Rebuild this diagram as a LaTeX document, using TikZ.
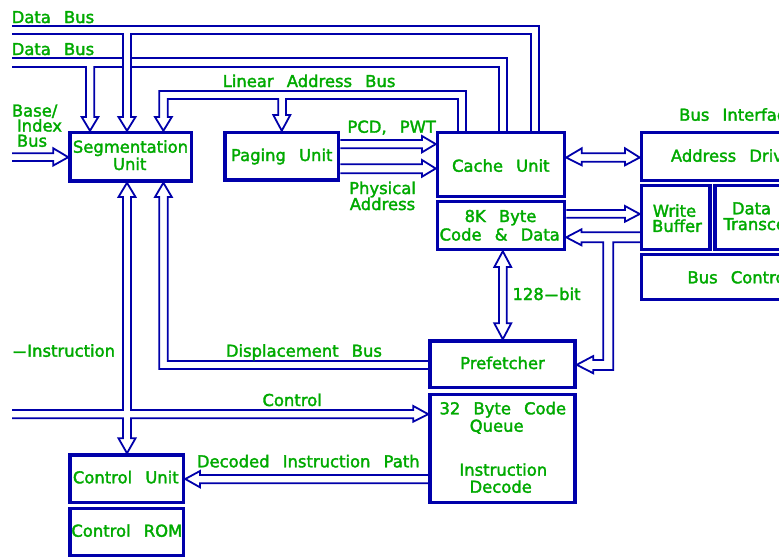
\documentclass[tikz,border=0pt]{standalone}
\usepackage{fontspec}
\setmainfont{DejaVu Sans}[FakeBold=2]
\definecolor{ebl}{RGB}{0,0,170}
\definecolor{egr}{RGB}{0,170,0}
\newcommand\lblfont{\fontsize{16.4}{17}\selectfont\spaceskip=0.8em\relax}
\newcommand\wdash{\scalebox{2.6}[1]{-}}
\tikzset{
  box/.style={draw=ebl, line width=3.5pt, inner sep=0pt, outer sep=0pt},
  bus/.style={draw=ebl, line width=1.8pt, line join=miter},
  lbl/.style={text=egr, inner sep=0pt, font=\lblfont, anchor=base},
  lblw/.style={lbl, anchor=base west},
}
\begin{document}
\begin{tikzpicture}[x=1pt,y=-1pt]
\clip (0,0) rectangle (779,558);
\fill[white] (0,0) rectangle (779,558);
% ---------- boxes ----------
\node[box, minimum width=121.5pt, minimum height=48.5pt] (seg)   at (130.75,156.75) {};
\node[box, minimum width=113.5pt, minimum height=47.5pt] (pag)   at (281.75,156.25) {};
\node[box, minimum width=127pt,   minimum height=64pt]   (cache) at (501,164.5) {};
\node[box, minimum width=127pt,   minimum height=48pt]   (cdata) at (501,225.5) {};
\node[box, minimum width=258.5pt, minimum height=48pt]   (addr)  at (770.75,156.5) {};
\node[box, minimum width=68.5pt,  minimum height=64pt]   (wbuf)  at (675.75,217.5) {};
\node[box, minimum width=185pt,   minimum height=64pt]   (dtrans) at (807.5,217.5) {};
\node[box, minimum width=258.5pt, minimum height=45pt]   (bctl)  at (770.75,277) {};
\node[box, minimum width=145pt,   minimum height=46.5pt] (pref)  at (502.5,364.25) {};
\node[box, minimum width=145pt,   minimum height=108pt]  (queue) at (502.5,448.5) {};
\node[box, minimum width=113.5pt, minimum height=47.5pt] (cu)    at (126.75,478.75) {};
\node[box, minimum width=113.5pt, minimum height=47pt]   (crom)  at (126.75,532) {};
% ---------- buses ----------
% Data Bus 1
\draw[bus] (12,26) -- (539,26) -- (539,130.75);
\draw[bus] (531,130.75) -- (531,34) -- (131,34) -- (131,117) -- (135.5,117) -- (127,130.75)
  -- (118.5,117) -- (123,117) -- (123,34) -- (12,34);
% Data Bus 2
\draw[bus] (12,58) -- (123,58);
\draw[bus] (131,58) -- (507,58) -- (507,130.75);
\draw[bus] (12,67) -- (86,67) -- (86,117) -- (81.7,117) -- (90,130.75) -- (98.3,117) -- (94.3,117)
  -- (94.3,67) -- (123,67);
\draw[bus] (131,67) -- (499,67) -- (499,130.75);
% Linear Address Bus
\draw[bus] (458,130.75) -- (458,99) -- (286,99) -- (286,115) -- (290.3,115) -- (281.75,130.75)
  -- (273.3,115) -- (278.3,115) -- (278.3,99) -- (167.7,99) -- (167.7,117) -- (171.8,117)
  -- (163.4,130.75) -- (155,117) -- (159.3,117) -- (159.3,91) -- (466,91) -- (466,130.75);
% Base/Index Bus
\draw[bus] (12,153.3) -- (53.3,153.3) -- (53.3,148.3) -- (68.25,157.2) -- (53.3,165.5)
  -- (53.3,161) -- (12,161);
% Segmentation <-> Control Unit, Control
\draw[bus] (12,410) -- (123,410) -- (123,197) -- (118.5,197) -- (127,182.75) -- (135.5,197)
  -- (131,197) -- (131,410) -- (413.3,410) -- (413.3,406) -- (428.25,414.2) -- (413.3,421.7)
  -- (413.3,418.3) -- (131,418.3) -- (131,438.3) -- (135.5,438.3) -- (127,453.25)
  -- (118.5,438.3) -- (123,438.3) -- (123,418.3) -- (12,418.3);
% Displacement Bus
\draw[bus] (428.25,361) -- (167.7,361) -- (167.7,197) -- (171.8,197) -- (163.4,182.75)
  -- (155,197) -- (159.3,197) -- (159.3,369) -- (428.25,369);
% Paging -> Cache
\draw[bus] (340.25,140) -- (422,140) -- (422,136) -- (435.75,144.1) -- (422,152.3)
  -- (422,148.3) -- (340.25,148.3);
\draw[bus] (340.25,164.3) -- (422,164.3) -- (422,160) -- (435.75,168.5) -- (422,176.7)
  -- (422,173.3) -- (340.25,173.3);
% Cache <-> Address Drivers
\draw[bus] (566.25,157.5) -- (581.7,148.3) -- (581.7,153.3) -- (625,153.3) -- (625,148.3)
  -- (639.75,157.5) -- (625,165.3) -- (625,161.7) -- (581.7,161.7) -- (581.7,165.3) -- cycle;
% 8K -> Write Buffer
\draw[bus] (566.25,210) -- (625,210) -- (625,206) -- (639.75,214) -- (625,221.7)
  -- (625,217.7) -- (566.25,217.7);
% Write Buffer -> 8K, Prefetcher
\draw[bus] (639.75,232.3) -- (581.5,232.3) -- (581.5,229.3) -- (566.25,237.3) -- (581.5,245.3)
  -- (581.5,242.3) -- (603.3,242.3) -- (603.3,360) -- (593.3,360) -- (593.3,356)
  -- (576.75,364.8) -- (593.3,373.3) -- (593.3,370) -- (613.3,370) -- (613.3,242.3)
  -- (639.75,242.3);
% 128-bit
\draw[bus] (499,267) -- (494.3,267) -- (502.8,251.25) -- (511.2,267) -- (506.7,267)
  -- (506.7,323.3) -- (511.2,323.3) -- (502.8,339.25) -- (494.3,323.3) -- (499,323.3) -- cycle;
% Decoded Instruction Path
\draw[bus] (428.25,475) -- (200,475) -- (200,471) -- (185.25,479) -- (200,487.3)
  -- (200,483.3) -- (428.25,483.3);
% ---------- labels ----------
\node[lblw] (t1) at (11.5,23) {Data Bus};
\node[lblw] (t2) at (11.5,55) {Data Bus};
\node[lblw] (t3) at (222.5,87) {Linear Address Bus};
\node[lblw] (t4) at (11.7,116.5) {Base/};
\node[lblw] (t5) at (16.7,131.5) {Index};
\node[lblw] (t6) at (16.7,146.7) {Bus};
\node[lbl] (t7) at (130.5,152.7) {Segmentation};
\node[lbl] (t8) at (129.7,170) {Unit};
\node[lbl] (t9) at (281.7,161) {Paging Unit};
\node[lblw] (t10) at (347.3,132.7) {PCD, PWT};
\node[lbl] (t11) at (382.5,194) {Physical};
\node[lbl] (t12) at (382.5,210) {Address};
\node[lbl] (t13) at (500.8,171.7) {Cache Unit};
\node[lbl] (t14) at (500.5,222) {8K Byte};
\node[lbl] (t15) at (499.7,240.5) {Code \& Data};
\node[lblw] (t16) at (679,120.7) {Bus Interface};
\node[lblw] (t17) at (670.7,161.7) {Address Drivers};
\node[lbl] (t18) at (674.5,216.8) {Write};
\node[lbl] (t19) at (677,231.9) {Buffer};
\node[lblw] (t20) at (731.7,214.3) {Data};
\node[lblw] (t21) at (723.3,230) {Transceivers};
\node[lblw] (t22) at (687.3,283.3) {Bus Control};
\node[lblw] (t23) at (512.3,300) {128\wdash bit};
\node[lbl] (t24) at (502.5,369) {Prefetcher};
\node[lblw] (t25) at (11.7,356.7) {\wdash Instruction};
\node[lblw] (t26) at (225.7,356.7) {Displacement Bus};
\node[lblw] (t27) at (262.3,406) {Control};
\node[lbl] (t28) at (502.8,414.3) {32 Byte Code};
\node[lbl] (t29) at (496.7,431.7) {Queue};
\node[lbl] (t30) at (503.3,475.7) {Instruction};
\node[lbl] (t31) at (500.7,492.7) {Decode};
\node[lblw] (t32) at (196.7,467.3) {Decoded Instruction Path};
\node[lbl] (t33) at (125.8,483.3) {Control Unit};
\node[lbl] (t34) at (126.8,536.7) {Control ROM};
\end{tikzpicture}
\end{document}
